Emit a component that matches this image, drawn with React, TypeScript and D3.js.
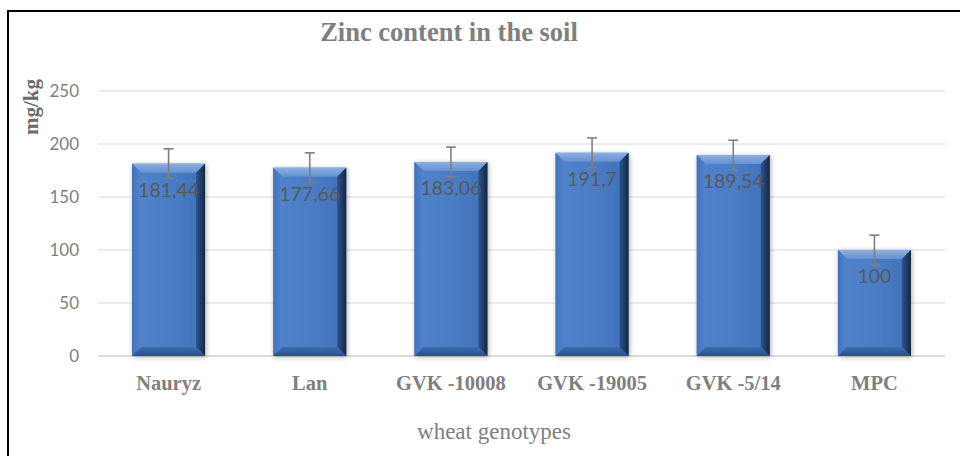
import React from "react";
import * as d3 from "d3";

const categories = ["Nauryz", "Lan", "GVK -10008", "GVK -19005", "GVK -5/14", "MPC"];
const values = [181.44, 177.66, 183.06, 191.7, 189.54, 100];
const labels = ["181,44", "177,66", "183,06", "191,7", "189,54", "100"];
const errors = [14, 14, 14, 14, 14, 14];
const yTicks = [0, 50, 100, 150, 200, 250];

const W = 960;
const H = 456;
const plotLeft = 98;
const plotRight = 945;
const plotTop = 91;
const plotBottom = 356;

export default function App() {
  const x = d3
    .scaleBand<string>()
    .domain(categories)
    .range([plotLeft, plotRight])
    .paddingInner(0.483)
    .paddingOuter(0.2415);
  const y = d3.scaleLinear().domain([0, 250]).range([plotBottom, plotTop]);
  const bw = x.bandwidth();
  const b = 9;

  return (
    <svg width={W} height={H} style={{ position: "absolute", left: 0, top: 0 }}>
      <defs>
        <linearGradient id="face" x1="0" y1="0" x2="1" y2="0">
          <stop offset="0" stopColor="#5083cc" />
          <stop offset="0.5" stopColor="#4a7dc6" />
          <stop offset="1" stopColor="#3f70b8" />
        </linearGradient>
        <linearGradient id="topb" x1="0" y1="0" x2="0" y2="1">
          <stop offset="0" stopColor="#8cafe0" />
          <stop offset="1" stopColor="#6591d2" />
        </linearGradient>
        <linearGradient id="rightb" x1="0" y1="0" x2="1" y2="0">
          <stop offset="0" stopColor="#2d5391" />
          <stop offset="1" stopColor="#142640" />
        </linearGradient>
        <linearGradient id="botb" x1="0" y1="0" x2="0" y2="1">
          <stop offset="0" stopColor="#3e6cb2" />
          <stop offset="1" stopColor="#294e88" />
        </linearGradient>
        <linearGradient id="leftb" x1="0" y1="0" x2="1" y2="0">
          <stop offset="0" stopColor="#4272ba" />
          <stop offset="1" stopColor="#5285cd" />
        </linearGradient>
        <filter id="shadow" x="-20%" y="-20%" width="140%" height="140%">
          <feGaussianBlur in="SourceAlpha" stdDeviation="2.5" />
          <feOffset dx="1" dy="1" result="ob" />
          <feComponentTransfer>
            <feFuncA type="linear" slope="0.35" />
          </feComponentTransfer>
          <feMerge>
            <feMergeNode />
            <feMergeNode in="SourceGraphic" />
          </feMerge>
        </filter>
      </defs>
      <rect x={0} y={0} width={W} height={H} fill="#ffffff" />
      <rect x={8} y={11} width={W + 20} height={H + 20} fill="none" stroke="#000" strokeWidth={2} />

      <text
        x={449}
        y={41}
        textAnchor="middle"
        fontFamily="'Liberation Serif', serif"
        fontWeight="bold"
        fontSize={26.5}
        fill="#7f7f7f"
      >
        Zinc content in the soil
      </text>

      {yTicks.map((t) => (
        <g key={t}>
          <line
            x1={plotLeft}
            x2={plotRight}
            y1={y(t)}
            y2={y(t)}
            stroke={t === 0 ? "#d0d0d0" : "#d9d9d9"}
            strokeWidth={t === 0 ? 1.5 : 1}
          />
          <text
            x={79}
            y={y(t)}
            dy="0.35em"
            textAnchor="end"
            fontFamily="Lato, sans-serif"
            fontSize={17}
            fill="#7f7f7f"
          >
            {t}
          </text>
        </g>
      ))}

      <text
        transform={`translate(38,107) rotate(-90)`}
        textAnchor="middle"
        fontFamily="'Liberation Serif', serif"
        fontWeight="bold"
        fontSize={21}
        fill="#6a6a6a"
      >
        mg/kg
      </text>

      {categories.map((c, i) => {
        const x0 = x(c)!;
        const y0 = y(values[i]);
        const y1 = y(0);
        const x1 = x0 + bw;
        const cx = x0 + bw / 2;
        return (
          <g key={c}>
            <g filter="url(#shadow)">
              <rect x={x0} y={y0} width={bw} height={y1 - y0} fill="url(#face)" />
            </g>
            <polygon
              points={`${x0},${y0} ${x1},${y0} ${x1 - b},${y0 + b} ${x0 + b},${y0 + b}`}
              fill="url(#topb)"
            />
            <polygon
              points={`${x0},${y0} ${x0 + b},${y0 + b} ${x0 + b},${y1 - b} ${x0},${y1}`}
              fill="url(#leftb)"
            />
            <polygon
              points={`${x1},${y0} ${x1},${y1} ${x1 - b},${y1 - b} ${x1 - b},${y0 + b}`}
              fill="url(#rightb)"
            />
            <polygon
              points={`${x0},${y1} ${x0 + b},${y1 - b} ${x1 - b},${y1 - b} ${x1},${y1}`}
              fill="url(#botb)"
            />
            <g stroke="#7f7f7f" strokeWidth={1.6}>
              <line x1={cx} x2={cx} y1={y(values[i] + errors[i])} y2={y(values[i] - errors[i])} />
              <line x1={cx - 5} x2={cx + 5} y1={y(values[i] + errors[i])} y2={y(values[i] + errors[i])} />
              <line x1={cx - 5} x2={cx + 5} y1={y(values[i] - errors[i])} y2={y(values[i] - errors[i])} />
            </g>
            <text
              x={cx}
              y={y0 + 33}
              textAnchor="middle"
              fontFamily="Lato, sans-serif"
              fontSize={19.5}
              fill="#595959"
            >
              {labels[i]}
            </text>
            <text
              x={cx}
              y={390}
              textAnchor="middle"
              fontFamily="'Liberation Serif', serif"
              fontWeight="bold"
              fontSize={20.5}
              fill="#7f7f7f"
            >
              {c}
            </text>
          </g>
        );
      })}

      <text
        x={494}
        y={439}
        textAnchor="middle"
        fontFamily="'Liberation Serif', serif"
        fontSize={23}
        fill="#7f7f7f"
      >
        wheat genotypes
      </text>
    </svg>
  );
}
